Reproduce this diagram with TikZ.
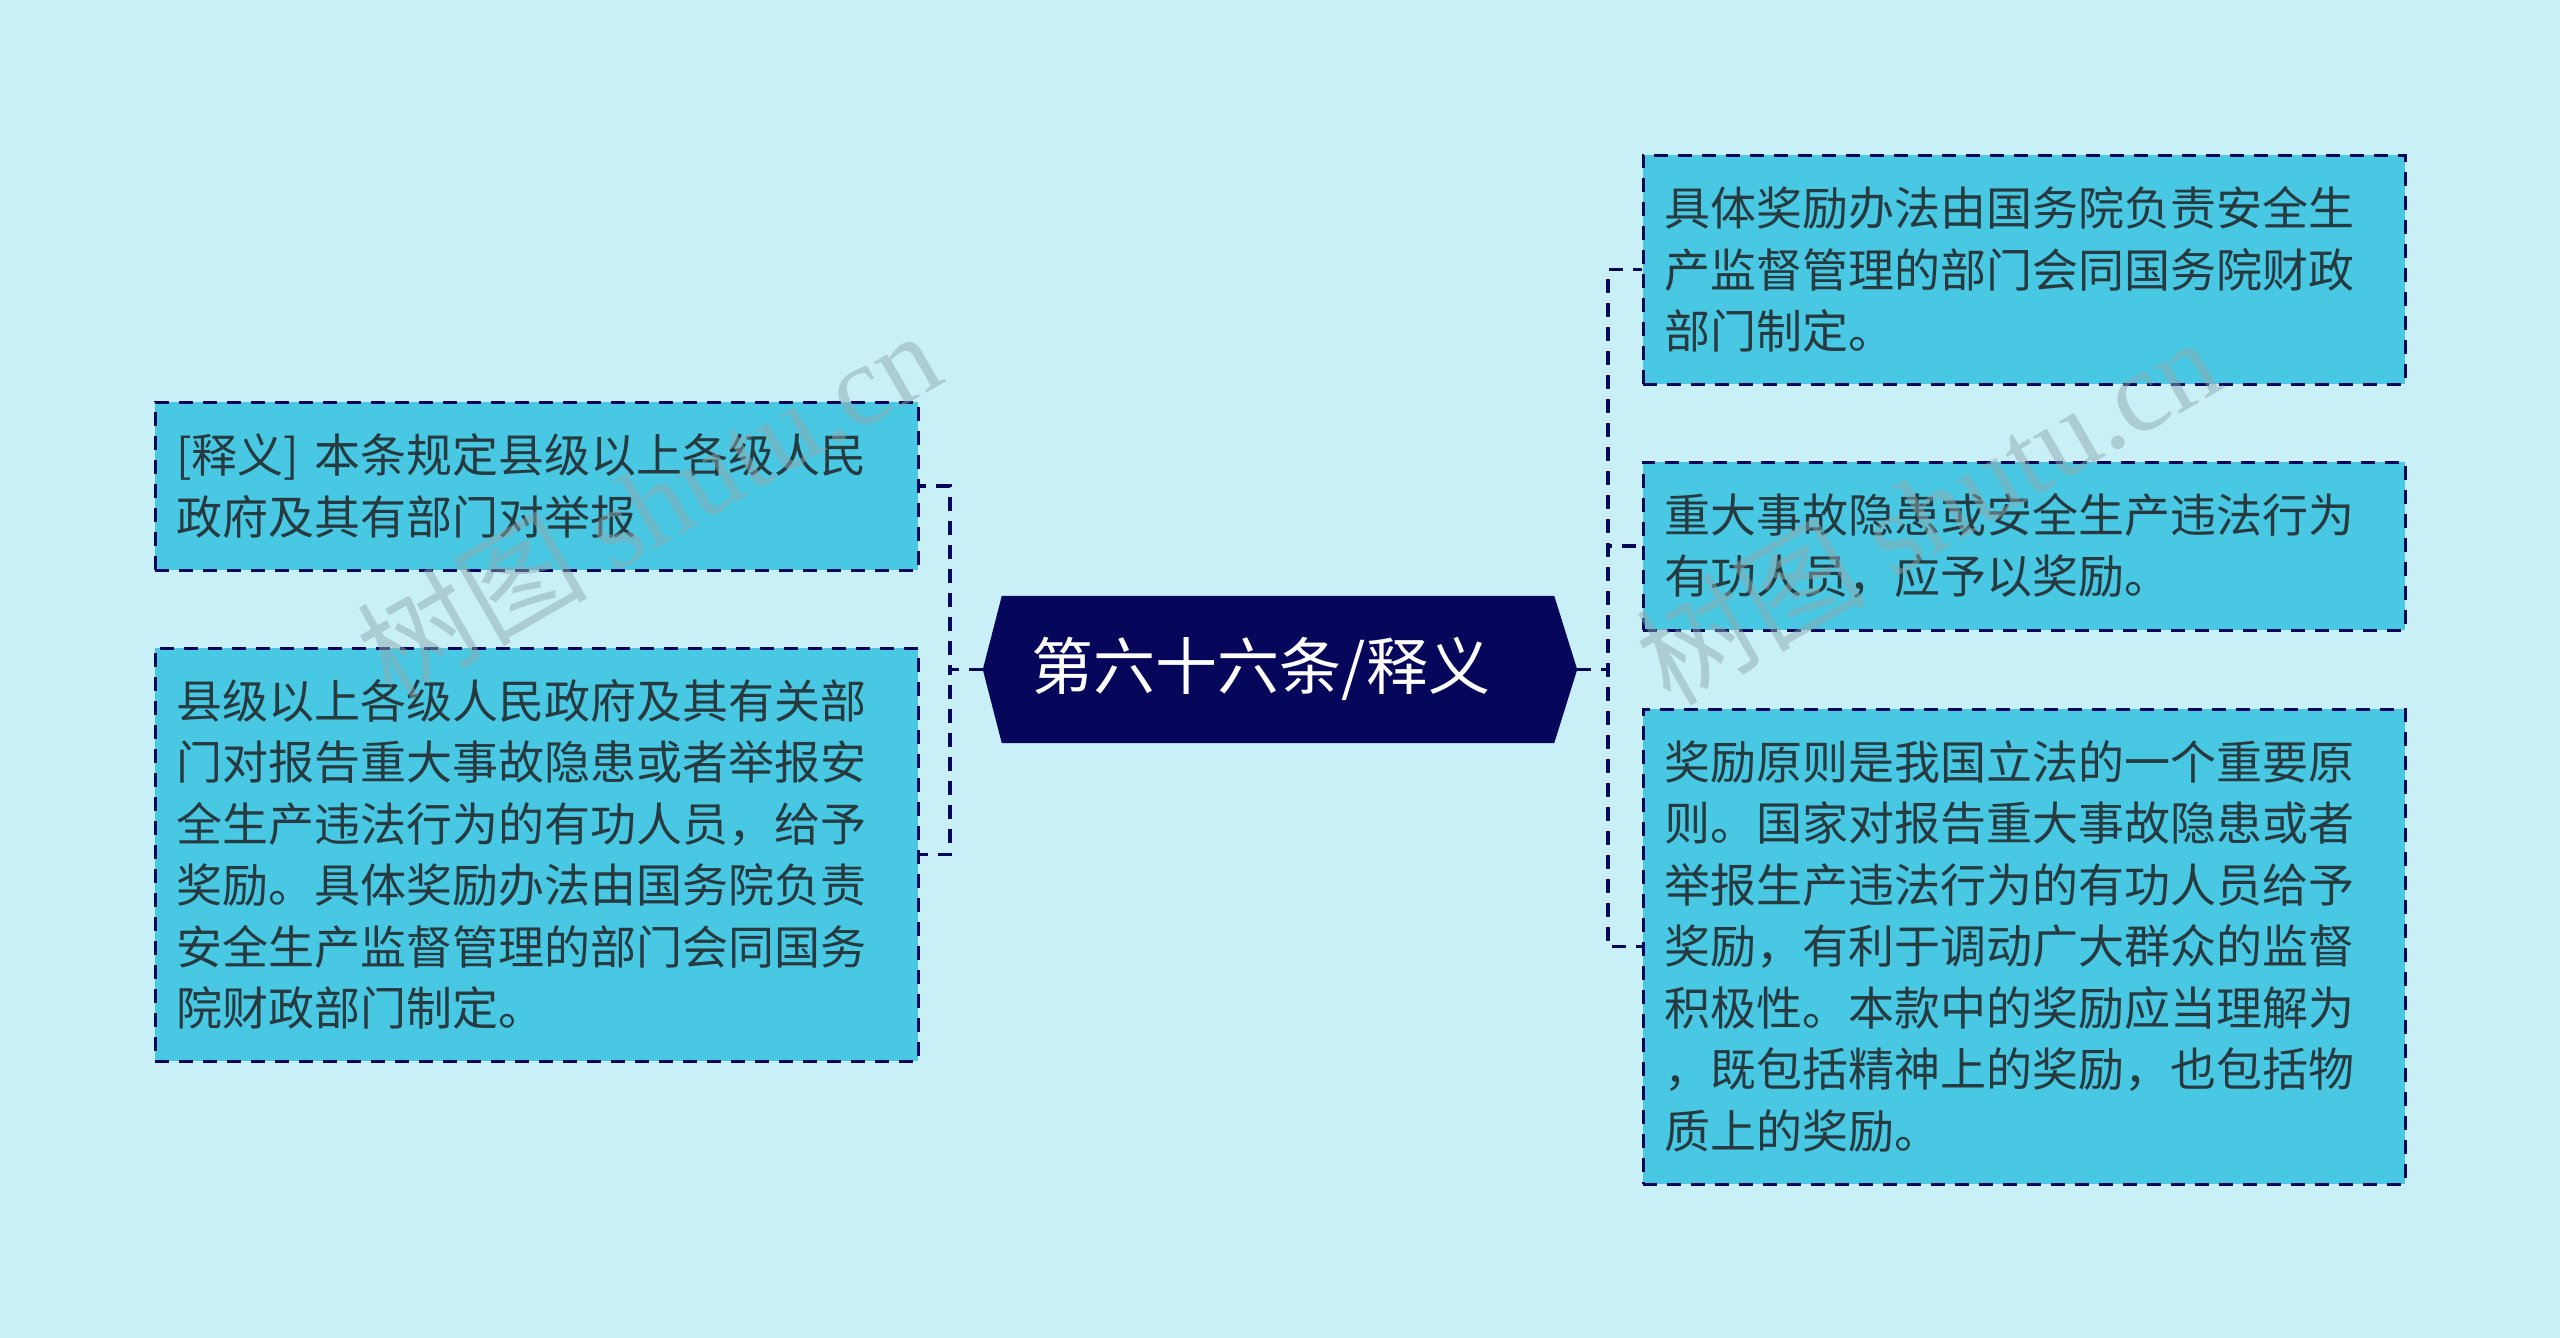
\documentclass[tikz,border=0pt]{standalone}
\usepackage{fontspec}
\setmainfont{Noto Sans CJK SC}
\newfontfamily\wmfont{Liberation Serif}
\newfontfamily\cjk{Noto Sans CJK SC}
\definecolor{bgc}{HTML}{C9F0F7}
\definecolor{boxc}{HTML}{48C8E3}
\definecolor{navy}{HTML}{06065A}
\definecolor{txt}{HTML}{263A40}
\definecolor{wm}{HTML}{8FA9AE}
\tikzset{
  leaf/.style={draw=navy, line width=3pt, dash pattern=on 14pt off 10pt, fill=boxc,
    text=txt, align=left, inner xsep=21pt, inner ysep=0pt,
    font=\fontsize{46}{61.5}\selectfont, anchor=center},
  conn/.style={draw=navy, line width=3.5pt, dash pattern=on 14pt off 10pt},
  wmark/.style={text=wm, opacity=0.5, rotate=30, font=\fontsize{115}{115}\selectfont}
}
\begin{document}
\begin{tikzpicture}[x=1pt,y=-1pt]
\fill[bgc] (0,0) rectangle (2560,1338);
\useasboundingbox (0,0) rectangle (2560,1338);

% central node
\node[minimum width=594pt, minimum height=147pt, inner sep=0pt] (c) at (1280,669.5) {};
\fill[navy] (c.west) -- ([xshift=19pt]c.north west) -- ([xshift=-23pt]c.north east) -- (c.east)
  -- ([xshift=-23pt]c.south east) -- ([xshift=19pt]c.south west) -- cycle;
\node[text=white, font=\fontsize{62}{62}\selectfont, inner sep=0pt] (ct) at (1261,669) {第六十六条/释义};

% left leaves
\node[leaf, text width=721pt, minimum height=168pt] (l1) at (536.5,486)
  {[释义] 本条规定县级以上各级人民\\政府及其有部门对举报};
\node[leaf, text width=721pt, minimum height=413pt] (l2) at (536.5,854.5)
  {县级以上各级人民政府及其有关部\\门对报告重大事故隐患或者举报安\\全生产违法行为的有功人员，给予\\奖励。具体奖励办法由国务院负责\\安全生产监督管理的部门会同国务\\院财政部门制定。};

% right leaves
\node[leaf, text width=720pt, minimum height=229pt] (r1) at (2024,269.5)
  {具体奖励办法由国务院负责安全生\\产监督管理的部门会同国务院财政\\部门制定。};
\node[leaf, text width=720pt, minimum height=168pt] (r2) at (2024,546)
  {重大事故隐患或安全生产违法行为\\有功人员，应予以奖励。};
\node[leaf, text width=720pt, minimum height=475pt] (r3) at (2024,946.5)
  {奖励原则是我国立法的一个重要原\\则。国家对报告重大事故隐患或者\\举报生产违法行为的有功人员给予\\奖励，有利于调动广大群众的监督\\积极性。本款中的奖励应当理解为\\，既包括精神上的奖励，也包括物\\质上的奖励。};

% connectors
\draw[conn] (c.west) -- ++(-33,0) |- (l1.east);
\draw[conn] (c.west) -- ++(-33,0) |- (l2.east);
\draw[conn] (c.east) -- ++(31,0) |- (r1.west);
\draw[conn] (c.east) -- ++(31,0) |- (r2.west);
\draw[conn] (c.east) -- ++(31,0) |- (r3.west);

% watermarks
\node[wmark] (w1) at (648,503) {{\cjk 树图} {\wmfont shutu.cn}};
\node[wmark] (w2) at (1927,509) {{\cjk 树图} {\wmfont shutu.cn}};
\end{tikzpicture}
\end{document}
